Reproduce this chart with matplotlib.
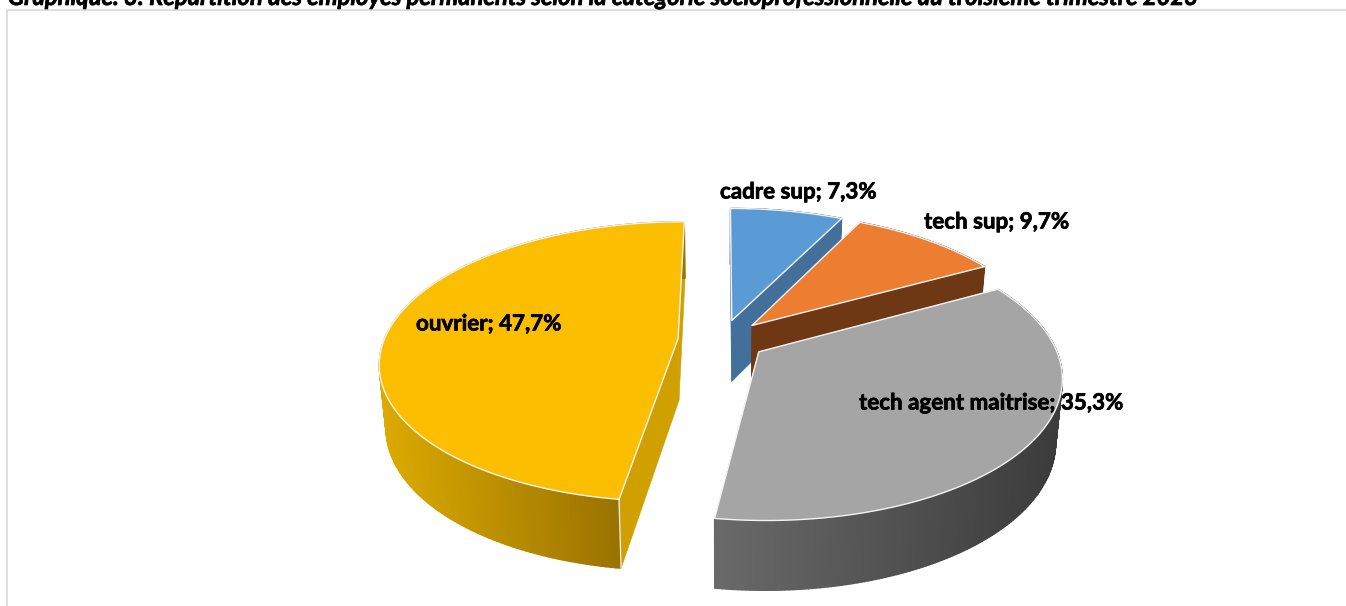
#!/usr/bin/env python3
import numpy as np
import matplotlib
matplotlib.use('Agg')
import matplotlib.pyplot as plt
import matplotlib.patheffects as pe
from matplotlib.colors import to_rgb
from matplotlib.patches import Polygon

title = ("Graphique. 3: Répartition des employés permanents selon la catégorie "
         "socioprofessionnelle au troisième trimestre 2023")
categories = ['cadre sup', 'tech sup', 'tech agent maitrise', 'ouvrier']
values = [7.3, 9.7, 35.3, 47.7]
labels = [f"{c}; {str(v).replace('.', ',')}%" for c, v in zip(categories, values)]

top_colors = ['#5b9bd5', '#ed7d31', '#a5a5a5', '#fbbe00']
cut_colors = ['#42709a', '#6f3815', '#a5a5a5', '#cfa000']
wall_left = ['#42709a', '#6f3815', '#6a6a6a', '#dcaa00']
wall_right = ['#42709a', '#6f3815', '#3b3b3b', '#9a7300']
label_xy = [(720, 192), (924, 222), (859, 403), (416, 324)]

# projection of the tilted pie
CX, CY = 722, 340
RX, RY = 294, 136.5
PERSP = 0.165
EXPLODE = 0.15
DEPTH = 62
BOTTOM = 0.98


def project(x, y):
    w = 1 + PERSP * y
    return CX + RX * x / w, CY - RY * y / w


def lower(sx, sy, y):
    w = 1 + PERSP * y
    return CX + (sx - CX) * BOTTOM, sy + DEPTH / w ** 0.6


fig = plt.figure(figsize=(13.46, 6.06), dpi=100)
ax = fig.add_axes([0, 0, 1, 1])
ax.set_xlim(0, 1346)
ax.set_ylim(606, 0)
ax.axis('off')

ax.plot([7, 7, 1346], [606, 10, 10], color='#d9d9d9', lw=1.2, zorder=1)

# angles clockwise from 12 o'clock, drawn back to front
ends = np.cumsum(values) / sum(values) * 2 * np.pi
starts = np.r_[0, ends[:-1]]
z = 2
for i in [0, 1, 3, 2]:
    mid = (starts[i] + ends[i]) / 2
    ox, oy = EXPLODE * np.sin(mid), EXPLODE * np.cos(mid)
    t = np.linspace(starts[i], ends[i], 200)
    px, py = ox + np.sin(t), oy + np.cos(t)
    sx, sy = project(px, py)
    bx, by = lower(sx, sy, py)
    ax0, ay0 = project(ox, oy)
    abx, aby = lower(ax0, ay0, oy)

    # cut faces
    for k in [0, -1]:
        ax.add_patch(Polygon([(ax0, ay0), (sx[k], sy[k]), (bx[k], by[k]), (abx, aby)],
                             closed=True, fc=cut_colors[i], ec=cut_colors[i], lw=0.4, zorder=z))
    z += 1

    # rim, shaded left to right
    c0, c1 = np.array(to_rgb(wall_left[i])), np.array(to_rgb(wall_right[i]))
    x0, x1 = sx.min(), sx.max()
    if i == 3:
        x1 = sx[0]
    for k in range(len(t) - 1):
        f = np.clip((sx[k] - x0) / (x1 - x0), 0, 1)
        col = c0 + (c1 - c0) * f
        ax.add_patch(Polygon([(sx[k], sy[k]), (sx[k + 1], sy[k + 1]),
                              (bx[k + 1], by[k + 1]), (bx[k], by[k])],
                             closed=True, fc=col, ec=col, lw=1.0, zorder=z))
    z += 1

    # white seam on the front corner
    if i == 3:
        ax.plot([sx[0], bx[0]], [sy[0], by[0]], color='#f2efe0', lw=1, zorder=z)

    # top face
    ax.add_patch(Polygon(np.r_[[(ax0, ay0)], np.c_[sx, sy]], closed=True,
                         fc=top_colors[i], ec='#f4f4f4', lw=1.0, joinstyle='round', zorder=z))
    z += 1

heavier = [pe.withStroke(linewidth=0.5, foreground='black')]
for lab, (lx, ly) in zip(labels, label_xy):
    ax.text(lx, ly, lab, family='Lato', weight='bold', fontsize=16.1, color='black',
            ha='left', va='center', zorder=z, path_effects=heavier)

ax.text(8, 5, title, family='Lato', weight='bold', style='italic', fontsize=17.1,
        color='black', ha='left', va='baseline', zorder=z, path_effects=heavier)

fig.savefig('out.png', dpi=100)
